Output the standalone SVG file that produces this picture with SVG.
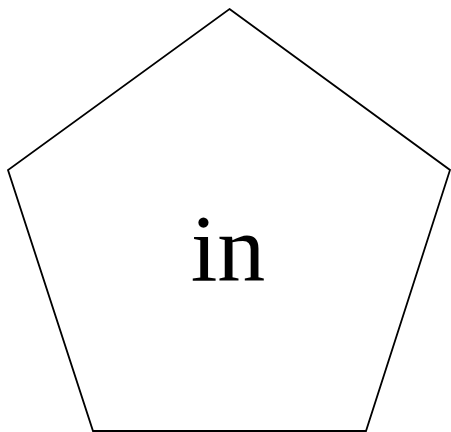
<svg xmlns="http://www.w3.org/2000/svg" width="451" height="432" viewBox="0 0 451 432">
<style>
.shape{fill:#fff;stroke:#000;stroke-width:1.8}
.lbl{font-family:"Liberation Serif",serif;font-size:96px;fill:#000;text-anchor:middle}
</style>
<rect width="451" height="432" fill="#fff"/>
<g id="node-in">
<polygon class="shape" points="229.5,9 450,170 366,431 93,431 8,170"/>
<text class="lbl" x="228" y="281">in</text>
</g>
<g id="connectors"></g>
</svg>
